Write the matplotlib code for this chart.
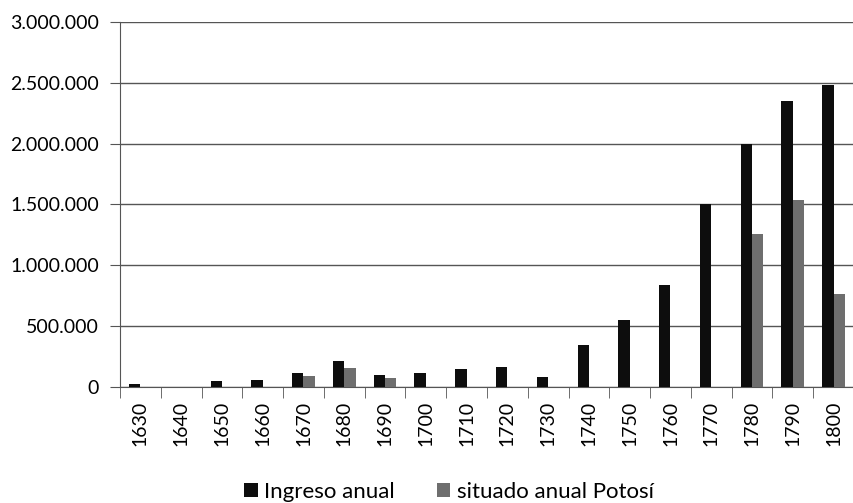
import numpy as np
import matplotlib.pyplot as plt
from matplotlib.ticker import FuncFormatter, FixedLocator

plt.rcParams['font.family'] = ['Lato', 'DejaVu Sans']

# data
years = [1630, 1640, 1650, 1660, 1670, 1680, 1690, 1700, 1710,
         1720, 1730, 1740, 1750, 1760, 1770, 1780, 1790, 1800]
ingreso = [25000, 0, 49000, 55000, 117000, 210000, 98000, 112000, 148000,
           164000, 82000, 344000, 549000, 836000, 1500000, 2000000, 2350000, 2480000]
situado = [0, 0, 0, 0, 93000, 158000, 71000, 0, 0,
           0, 0, 0, 0, 0, 0, 1260000, 1540000, 762000]

fig = plt.figure(figsize=(8.54, 5.03), dpi=100)
ax = fig.add_axes([0.1405, 0.231, 0.8595, 0.725])

x = np.arange(len(years))
w = 0.28
ax.bar(x - w/2, ingreso, w, color='#0d0d0d', label='Ingreso anual', zorder=3)
ax.bar(x + w/2, situado, w, color='#6e6e6e', label='situado anual Potosí', zorder=3)

ax.set_xlim(-0.5, len(years) - 0.5)
ax.set_ylim(0, 3000000)
ax.set_yticks(np.arange(0, 3000001, 500000))
ax.yaxis.set_major_formatter(FuncFormatter(lambda v, p: '{:,.0f}'.format(v).replace(',', '.')))
ax.yaxis.grid(True, color='#555555', linewidth=1.0, zorder=0)

ax.set_xticks(x)
ax.set_xticklabels([str(y) for y in years], rotation=90)
ax.xaxis.set_minor_locator(FixedLocator(np.arange(-0.5, len(years), 1.0)))
ax.tick_params(axis='x', which='major', length=0, pad=10, labelsize=14)
ax.tick_params(axis='x', which='minor', length=8, color='#555555')
ax.tick_params(axis='y', length=7, color='#555555', labelsize=14, pad=8)

for s in ['top', 'right']:
    ax.spines[s].set_visible(False)
ax.spines['left'].set_color('#555555')
ax.spines['bottom'].set_color('#555555')

fig.legend(loc='center', bbox_to_anchor=(0.526, 0.022), ncol=2, frameon=False,
           fontsize=16, handlelength=0.6, handleheight=0.6, handletextpad=0.3,
           columnspacing=1.9)

fig.savefig('out.png', dpi=100)
